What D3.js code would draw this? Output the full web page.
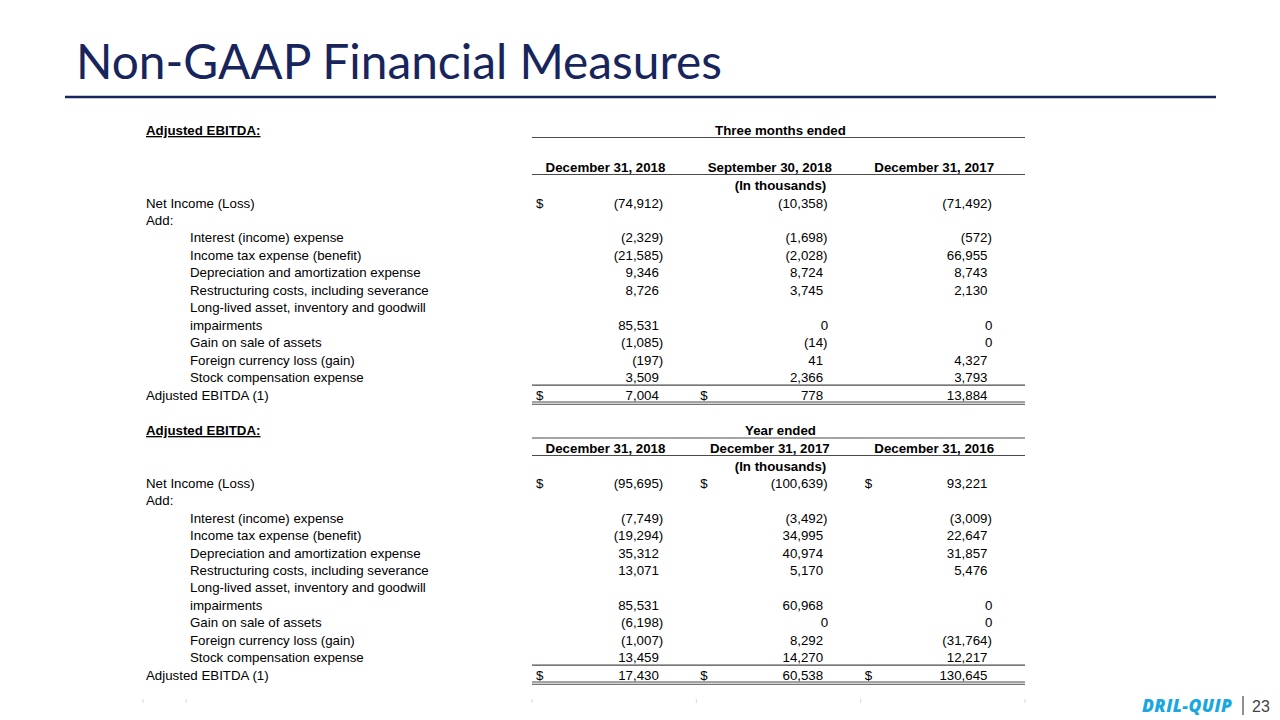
<!DOCTYPE html>
<html>
<head>
<meta charset="utf-8">
<script src="https://cdn.jsdelivr.net/npm/d3@7"></script>
<style>
  html, body { margin: 0; padding: 0; background: #fff; }
  svg { display: block; }
</style>
</head>
<body>
<svg id="chart" width="1280" height="720"></svg>
<script>
// ---------- DATA ----------
const title = "Non-GAAP Financial Measures";
const rowLabels = [
  "Net Income (Loss)", "Add:", "Interest (income) expense", "Income tax expense (benefit)",
  "Depreciation and amortization expense", "Restructuring costs, including severance",
  "Long-lived asset, inventory and goodwill", "impairments", "Gain on sale of assets",
  "Foreign currency loss (gain)", "Stock compensation expense", "Adjusted EBITDA (1)"
];
const rowIndent = [0, 0, 1, 1, 1, 1, 1, 1, 1, 1, 1, 0];

const q_heading = "Three months ended";
const q_columns = ["December 31, 2018", "September 30, 2018", "December 31, 2017"];
const q_col1 = [-74912, null, -2329, -21585, 9346, 8726, null, 85531, -1085, -197, 3509, 7004];
const q_col2 = [-10358, null, -1698, -2028, 8724, 3745, null, 0, -14, 41, 2366, 778];
const q_col3 = [-71492, null, -572, 66955, 8743, 2130, null, 0, 0, 4327, 3793, 13884];
const q_dollarNet = [true, false, false];
const q_dollarTotal = [true, true, false];

const y_heading = "Year ended";
const y_columns = ["December 31, 2018", "December 31, 2017", "December 31, 2016"];
const y_col1 = [-95695, null, -7749, -19294, 35312, 13071, null, 85531, -6198, -1007, 13459, 17430];
const y_col2 = [-100639, null, -3492, 34995, 40974, 5170, null, 60968, 0, 8292, 14270, 60538];
const y_col3 = [93221, null, -3009, 22647, 31857, 5476, null, 0, 0, -31764, 12217, 130645];
const y_dollarNet = [true, true, true];
const y_dollarTotal = [true, true, true];

const sectionTitle = "Adjusted EBITDA:";
const unitsLabel = "(In thousands)";
const pageNumber = "23";
const logoText = "DRIL-QUIP";

// ---------- LAYOUT ----------
const svg = d3.select("#chart");
const NAVY = "#17255c";
const LINE = "#4a4a4a";
const FONT = "'Liberation Sans', Arial, sans-serif";
const FS = 13.3;

// Title
const t = svg.append("text")
  .attr("x", 76).attr("y", 79)
  .attr("fill", NAVY)
  .attr("font-family", "Lato, 'Noto Sans', sans-serif")
  .attr("font-size", 46)
  .text(title);
const tw = t.node().getComputedTextLength();
t.attr("font-size", 46 * 646 / tw);

svg.append("line").attr("x1", 65).attr("x2", 1216).attr("y1", 97).attr("y2", 97)
  .attr("stroke", NAVY).attr("stroke-width", 2.5);

// Column scale
const colKeys = [0, 1, 2];
const xCol = d3.scaleBand().domain(colKeys).range([532, 1025]).paddingInner(0).paddingOuter(0);
const bw = xCol.bandwidth();
const fmt = d3.format(",");
const parenW = 4.4;

function fmtVal(v) {
  if (v < 0) return "(" + fmt(-v) + ")";
  return fmt(v);
}

function drawSection(cfg) {
  const g = svg.append("g")
    .attr("font-family", FONT).attr("font-size", FS).attr("fill", "#000");
  const yRow = d3.scaleLinear().domain([0, rowLabels.length - 1]).range([cfg.y0, cfg.y1]);

  // section title
  g.append("text").attr("x", 146).attr("y", cfg.headY)
    .attr("font-weight", "bold").attr("text-decoration", "underline")
    .text(sectionTitle);

  // heading
  g.append("text").attr("x", (xCol(0) + xCol(2) + bw) / 2 + 2).attr("y", cfg.headY)
    .attr("text-anchor", "middle").attr("font-weight", "bold").text(cfg.heading);
  g.append("line").attr("x1", xCol(0)).attr("x2", xCol(2) + bw)
    .attr("y1", cfg.headLineY).attr("y2", cfg.headLineY).attr("stroke", LINE).attr("stroke-width", 1.2);

  // column headers
  g.selectAll(".colh").data(cfg.columns).join("text")
    .attr("x", (d, i) => xCol(i) + 73.5).attr("y", cfg.colY)
    .attr("text-anchor", "middle").attr("font-weight", "bold")
    .text(d => d);
  g.append("line").attr("x1", xCol(0)).attr("x2", xCol(2) + bw)
    .attr("y1", cfg.colLineY).attr("y2", cfg.colLineY).attr("stroke", LINE).attr("stroke-width", 1.2);

  g.append("text").attr("x", (xCol(0) + xCol(2) + bw) / 2 + 2).attr("y", cfg.unitsY)
    .attr("text-anchor", "middle").attr("font-weight", "bold").text(unitsLabel);

  // row labels
  g.selectAll(".rl").data(rowLabels).join("text")
    .attr("x", (d, i) => rowIndent[i] ? 190 : 146)
    .attr("y", (d, i) => yRow(i))
    .text(d => d);

  // values
  cfg.values.forEach((arr, c) => {
    const right = xCol(c) + bw - 37.5;
    g.selectAll(null).data(arr.map((v, i) => ({ v, i })).filter(d => d.v !== null)).join("text")
      .attr("x", d => d.v < 0 ? right + parenW : (d.v === 0 ? right + 5 : right))
      .attr("y", d => yRow(d.i))
      .attr("text-anchor", "end")
      .text(d => fmtVal(d.v));
    if (cfg.dollarNet[c]) g.append("text").attr("x", xCol(c) + 4).attr("y", yRow(0)).text("$");
    if (cfg.dollarTotal[c]) g.append("text").attr("x", xCol(c) + 4).attr("y", yRow(rowLabels.length - 1)).text("$");
  });

  // rule under stock compensation, double rule under total
  const nLast = rowLabels.length - 1;
  const ys = [yRow(nLast - 1) + 3, yRow(nLast) + 2.5, yRow(nLast) + 4.8];
  ys.forEach((yy, k) => {
    g.append("line").attr("x1", xCol(0)).attr("x2", xCol(2) + bw)
      .attr("y1", yy).attr("y2", yy).attr("stroke", LINE).attr("stroke-width", k === 0 ? 1.2 : 1.1);
  });
}

drawSection({
  heading: q_heading, columns: q_columns, values: [q_col1, q_col2, q_col3],
  dollarNet: q_dollarNet, dollarTotal: q_dollarTotal,
  headY: 135, headLineY: 137.5, colY: 172, colLineY: 174.5, unitsY: 190,
  y0: 207.5, y1: 399.5
});
drawSection({
  heading: y_heading, columns: y_columns, values: [y_col1, y_col2, y_col3],
  dollarNet: y_dollarNet, dollarTotal: y_dollarTotal,
  headY: 435, headLineY: 438, colY: 453, colLineY: 455.5, unitsY: 471,
  y0: 488, y1: 679.5
});

// faint column markers at bottom
const markX = [143, 186, xCol(0), xCol(1), xCol(2), xCol(2) + bw];
svg.selectAll(".mk").data(markX).join("line")
  .attr("x1", d => d).attr("x2", d => d).attr("y1", 699).attr("y2", 703)
  .attr("stroke", "#d8d8d8").attr("stroke-width", 1);

// logo and page number
const logo = svg.append("text").attr("x", 1142).attr("y", 712)
  .attr("font-family", "'Open Sans', 'DejaVu Sans', sans-serif")
  .attr("font-weight", 800).attr("font-style", "italic")
  .attr("font-size", 17.5).attr("fill", "#1aa7e0")
  .attr("letter-spacing", 0.4)
  .text(logoText);
svg.append("line").attr("x1", 1243).attr("x2", 1243).attr("y1", 696).attr("y2", 715)
  .attr("stroke", "#555").attr("stroke-width", 1.3);
svg.append("text").attr("x", 1252).attr("y", 711.5)
  .attr("font-family", "'Liberation Sans', Arial, sans-serif")
  .attr("font-size", 16).attr("fill", "#444")
  .text(pageNumber);
</script>
</body>
</html>
